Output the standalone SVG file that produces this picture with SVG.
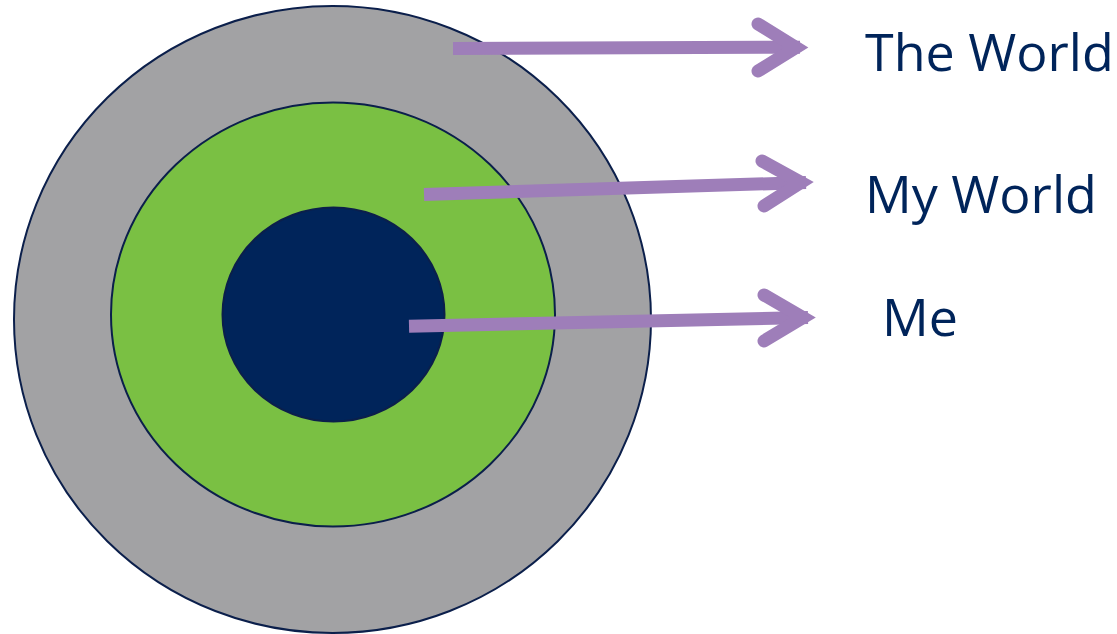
<svg xmlns="http://www.w3.org/2000/svg" width="1117" height="634" viewBox="0 0 1117 634">
<style>
.ring{stroke:#0B1F4B;stroke-width:2}
.arrow{fill:none;stroke:#9E7EB9;stroke-width:13}
.head{fill:none;stroke:#9E7EB9;stroke-width:13;stroke-linecap:round;stroke-linejoin:miter;stroke-miterlimit:10}
.label{font-family:"Open Sans","Noto Sans",sans-serif;font-size:52px;fill:#00245A}
</style>
<rect width="1117" height="634" fill="#FFFFFF"/>
<g id="the-world"><ellipse class="ring" cx="332.5" cy="319.5" rx="318.5" ry="313.5" fill="#A2A2A4"/></g>
<g id="my-world"><ellipse class="ring" cx="333" cy="314.5" rx="222" ry="212" fill="#7AC043"/></g>
<g id="me"><ellipse class="ring" cx="333.5" cy="314.5" rx="111" ry="107" fill="#00245A"/></g>
<g id="connectors">
<path class="arrow" d="M453,48.5 L800,47.2"/>
<path class="head" d="M758,24 L796,47.5 L758,71"/>
<path class="arrow" d="M424,194.5 L806,182.5"/>
<path class="head" d="M762,161 L801,182.5 L764,206"/>
<path class="arrow" d="M409,326.3 L808,317.5"/>
<path class="head" d="M764,295 L803,317.5 L764,341"/>
</g>
<g id="labels">
<text class="label" x="865" y="71">The World</text>
<text class="label" x="865" y="213">My World</text>
<text class="label" x="882" y="336">Me</text>
</g>
</svg>
